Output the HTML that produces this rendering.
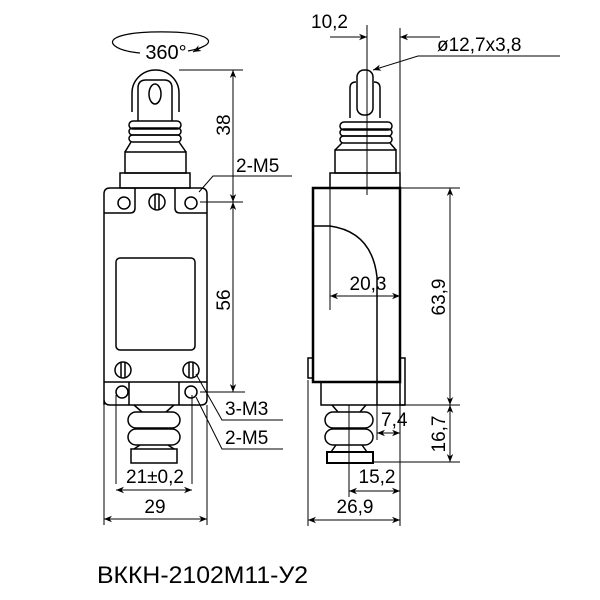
<!DOCTYPE html>
<html><head><meta charset="utf-8"><style>html,body{margin:0;padding:0;background:#fff}svg{display:block}</style></head>
<body>
<svg width="600" height="600" viewBox="0 0 600 600" xmlns="http://www.w3.org/2000/svg" font-family="Liberation Sans, DejaVu Sans, sans-serif">
<defs>
<marker id="a" viewBox="0 0 10 10" refX="10" refY="5" markerWidth="10" markerHeight="8" markerUnits="userSpaceOnUse" orient="auto-start-reverse"><path d="M0,1 L10,5 L0,9 L3,5 Z" fill="#000"/></marker>
</defs>
<g fill="none" stroke="#000" stroke-width="1">
<path d="M188,51 C220,45 215,33 170,32 C125,31 105,38 115,46 C120,50 130,52 140,53" stroke-width="1.2"/>
<path d="M204,46 L193,52" marker-end="url(#a)"/>
<g stroke-width="1.5">
<path d="M132,112 V93 A23.5,23 0 0 1 179,93 V112"/>
<path d="M138,121 V88 Q138,80 146,80 H164 Q172,80 172,88 V121"/>
<ellipse cx="155" cy="94" rx="6" ry="10"/>
<rect x="129" y="121" width="52" height="8" rx="4"/>
<rect x="129" y="128" width="52" height="7" rx="3.5"/>
<rect x="129" y="135" width="52" height="7" rx="3.5"/>
<path d="M131,142 L125,152 M179,142 L186,152"/>
<rect x="125" y="152" width="61" height="21"/>
<rect x="120" y="173" width="70" height="15"/>
<path d="M104,405 V194 Q104,188 110,188 H201 Q207,188 207,194 V399 Q207,405 201,405 H110 Q104,405 104,399"/>
<path d="M135,188 V208 Q135,213 130,213 H104 M175,188 V208 Q175,213 180,213 H207"/>
<circle cx="124" cy="203" r="6"/><circle cx="191" cy="203" r="6"/>
<circle cx="157" cy="202" r="8"/><path d="M155,194 V210 M159,194 V210"/>
<rect x="116" y="258" width="79" height="92" rx="4"/>
<circle cx="123" cy="370" r="8"/><path d="M121,362 V378 M125,362 V378"/>
<circle cx="191" cy="370" r="8"/><path d="M189,362 V378 M193,362 V378"/>
<path d="M104,382 H207 M129,382 V405 M179,382 V405"/>
<circle cx="122" cy="392" r="6"/><circle cx="191" cy="392" r="6"/>
<path d="M134,405 L142,412 M174,405 L166,412"/>
<rect x="128" y="412" width="52" height="16" rx="8"/>
<rect x="128" y="429" width="52" height="16" rx="8"/>
<path d="M140,445 L134,449 M168,445 L174,449"/>
<rect x="131" y="449" width="46" height="14"/>
</g>
<path d="M179,70 H243 M200,202 H243 M200,392 H245"/>
<path d="M233,70 V202" marker-start="url(#a)" marker-end="url(#a)"/>
<path d="M233,202 V392" marker-start="url(#a)" marker-end="url(#a)"/>
<path d="M199,192 L213,176 H292"/>
<path d="M196,374 L222,420 H283"/>
<path d="M196,397 L222,449 H283"/>
<path d="M116,395 V484 M192,395 V484 M104,405 V525 M207,405 V525"/>
<path d="M116,490 H192" marker-start="url(#a)" marker-end="url(#a)"/>
<path d="M104,519 H207" marker-start="url(#a)" marker-end="url(#a)"/>

<g stroke-width="1.5">
<rect x="357" y="70" width="16" height="45" rx="7"/>
<path d="M350,118 V88 Q350,82 356,82 M374,82 Q380,82 380,88 V118"/>
<rect x="340" y="122" width="52" height="8" rx="4"/>
<rect x="340" y="129" width="52" height="7" rx="3.5"/>
<rect x="340" y="136" width="52" height="7" rx="3.5"/>
<path d="M342,143 L335,150 M390,143 L396,150"/>
<rect x="335" y="150" width="61" height="23"/>
<rect x="330" y="173" width="70" height="15"/>
<path d="M313,188 H400 V382 H313 Z" stroke-width="2.5"/>
<path d="M313,226 H330 Q372,232 377,277 V405"/>
<rect x="308" y="358" width="5" height="20"/>
<rect x="400" y="358" width="5" height="47"/>
<path d="M321,382 V405 H405"/>
<path d="M332,405 L338,412 M366,405 L360,412"/>
<rect x="325" y="412" width="48" height="16" rx="8"/>
<rect x="325" y="429" width="48" height="16" rx="8"/>
<path d="M336,445 L331,452 M362,445 L367,452"/>
<rect x="327" y="452" width="46" height="11" stroke-width="2"/>
</g>
<path d="M367,25 V195 M400,28 V175 M330,188 V310 M349,405 V497 M308,380 V526 M400,405 V526 M377,405 V440"/>
<path d="M330,37 H367" marker-end="url(#a)"/>
<path d="M440,37 H400" marker-end="url(#a)"/>
<path d="M560,56 H418 L373,70" marker-end="url(#a)"/>
<path d="M330,296 H400" marker-start="url(#a)" marker-end="url(#a)"/>
<path d="M400,188 H460 M405,405 H460 M373,462 H460"/>
<path d="M450,188 V405" marker-start="url(#a)" marker-end="url(#a)"/>
<path d="M450,405 V462" marker-start="url(#a)" marker-end="url(#a)"/>
<path d="M377,433 H400" marker-start="url(#a)" marker-end="url(#a)"/>
<path d="M349,491 H400" marker-start="url(#a)" marker-end="url(#a)"/>
<path d="M308,520 H400" marker-start="url(#a)" marker-end="url(#a)"/>
</g>
<g font-size="19" fill="#000">
<text x="166" y="59" text-anchor="middle" font-size="20">360°</text>
<text x="236" y="172">2-M5</text>
<text transform="translate(230,125) rotate(-90)" text-anchor="middle">38</text>
<text transform="translate(230,300) rotate(-90)" text-anchor="middle">56</text>
<text x="225" y="415">3-M3</text>
<text x="225" y="444">2-M5</text>
<text x="155" y="483" text-anchor="middle">21±0,2</text>
<text x="155" y="513" text-anchor="middle">29</text>
<text x="311" y="28">10,2</text>
<text x="437" y="51">ø12,7x3,8</text>
<text x="368" y="290" text-anchor="middle">20,3</text>
<text transform="translate(445,297) rotate(-90)" text-anchor="middle">63,9</text>
<text transform="translate(445,434) rotate(-90)" text-anchor="middle">16,7</text>
<text x="381" y="426">7,4</text>
<text x="377" y="483" text-anchor="middle">15,2</text>
<text x="355" y="513" text-anchor="middle">26,9</text>
</g>
<text x="97" y="583" font-size="24" textLength="211" lengthAdjust="spacingAndGlyphs" fill="#000">ВККН-2102М11-У2</text>
</svg>
</body></html>
